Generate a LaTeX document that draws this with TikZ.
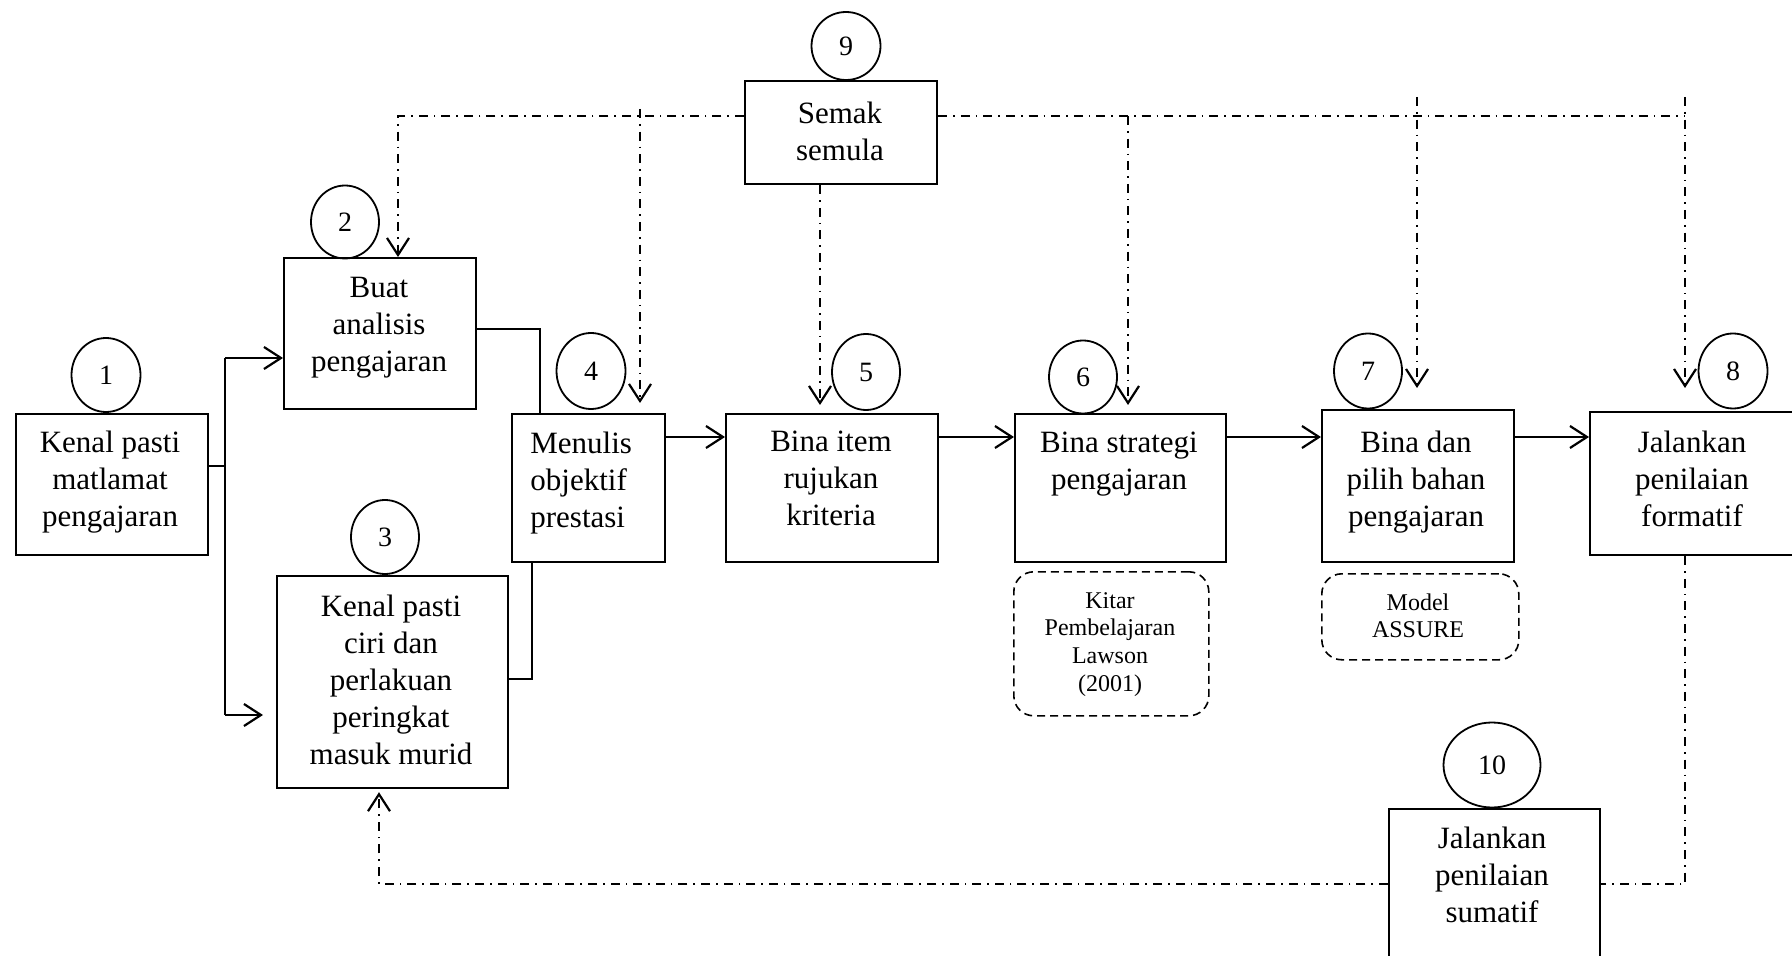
\documentclass[tikz,border=0pt]{standalone}
\usepackage{fontspec}
\setmainfont{Liberation Serif}
\usetikzlibrary{arrows.meta,shapes.geometric}

\begin{document}
\begin{tikzpicture}[x=0.5pt,y=-0.5pt,
  box/.style={draw,line width=1.1pt,rectangle,anchor=north west,inner sep=0pt},
  note/.style={draw,line width=0.8pt,rounded corners=10pt,dash pattern=on 4pt off 2.5pt,anchor=north west,inner sep=0pt},
  num/.style={draw,line width=0.9pt,ellipse,inner sep=0pt,font=\fontsize{14}{16}\selectfont},
  txt/.style={anchor=north,inner sep=0pt,align=center,font=\fontsize{15.5}{18.4}\selectfont},
  smalltxt/.style={anchor=north,inner sep=0pt,align=center,font=\fontsize{12}{13.8}\selectfont},
  flow/.style={line width=1.4pt},
  tip/.style={-{Straight Barb[length=8.5pt,width=11pt,line width=1.1pt]}},
  review/.style={line width=0.9pt,dash pattern=on 4.5pt off 3pt on 0.8pt off 3pt},
]
\useasboundingbox (0,0) rectangle (1792,956);
\clip (0,0) rectangle (1792,956);

% process boxes
\node[box,minimum width=96pt,minimum height=70.5pt] (b1) at (15,413) {};
\node[box,minimum width=96pt,minimum height=75.5pt] (b2) at (283,257) {};
\node[box,minimum width=115.5pt,minimum height=106pt] (b3) at (276,575) {};
\node[box,minimum width=76.5pt,minimum height=74pt] (b4) at (511,413) {};
\node[box,minimum width=106pt,minimum height=74pt] (b5) at (725,413) {};
\node[box,minimum width=105.5pt,minimum height=74pt] (b6) at (1014,413) {};
\node[box,minimum width=96pt,minimum height=76pt] (b7) at (1321,409) {};
\node[box,minimum width=110pt,minimum height=71.5pt] (b8) at (1589,411) {};
\node[box,minimum width=96pt,minimum height=51.5pt] (b9) at (744,80) {};
\node[box,minimum width=105.5pt,minimum height=85pt] (b10) at (1388,808) {};

% reference notes
\node[note,minimum width=97.5pt,minimum height=72pt] (n6) at (1013,571) {};
\node[note,minimum width=98.5pt,minimum height=43pt] (n7) at (1321,573) {};

% box texts
\node[txt] (t1) at (110,431) {Kenal pasti\\matlamat\\pengajaran};
\node[txt] (t2) at (379,277) {Buat\\analisis\\pengajaran};
\node[txt] (t3) at (391,595) {Kenal pasti\\ciri dan\\perlakuan\\peringkat\\masuk murid};
\node[txt,anchor=north west,align=left] (t4) at (530,431.5) {Menulis\\objektif\\prestasi};
\node[txt] (t5) at (831,430.5) {Bina item\\rujukan\\kriteria};
\node[txt] (t6) at (1119,432) {Bina strategi\\pengajaran};
\node[txt] (t7) at (1416,430.5) {Bina dan\\pilih bahan\\pengajaran};
\node[txt] (t8) at (1692,430.5) {Jalankan\\penilaian\\formatif};
\node[txt] (t9) at (840,101.5) {Semak\\semula};
\node[txt] (t10) at (1492,826.5) {Jalankan\\penilaian\\sumatif};
\node[smalltxt] (tn6) at (1110,592) {Kitar\\Pembelajaran\\Lawson\\(2001)};
\node[smalltxt] (tn7) at (1418,593) {Model\\ASSURE};

% step numbers
\node[num,minimum width=34.5pt,minimum height=37pt] (c1) at (106,375) {1};
\node[num,minimum width=34pt,minimum height=36.5pt] (c2) at (345,222) {2};
\node[num,minimum width=34pt,minimum height=37pt] (c3) at (385,537) {3};
\node[num,minimum width=34.5pt,minimum height=38pt] (c4) at (591,371) {4};
\node[num,minimum width=34pt,minimum height=38pt] (c5) at (866,372) {5};
\node[num,minimum width=34pt,minimum height=36.5pt] (c6) at (1083,377) {6};
\node[num,minimum width=34pt,minimum height=37.5pt] (c7) at (1368,371) {7};
\node[num,minimum width=34.5pt,minimum height=37.5pt] (c8) at (1733,371) {8};
\node[num,minimum width=34.5pt,minimum height=34pt] (c9) at (846,46) {9};
\node[num,minimum width=48.5pt,minimum height=42.5pt] (c10) at (1492,765) {10};

% main flow
\coordinate (ja) at (225,466);
\coordinate (jt) at (225,358);
\coordinate (jb) at (225,715);
\draw[flow] (b1.east |- ja) -- (ja);
\draw[flow] (jt) -- (jb);
\draw[flow,tip] (jt) -- (jt -| b2.west);
\draw[flow,tip,shorten >=6.5pt] (jb) -- (jb -| b3.west);
\coordinate (kb) at (540,329);
\draw[flow] (b2.east |- kb) -- (kb) -- (kb |- b4.north);
\coordinate (kc) at (532,679);
\draw[flow] (b3.east |- kc) -- (kc) -- (kc |- b4.south);
\coordinate (row) at (0,437);
\draw[flow,tip] (b4.east |- row) -- (b5.west |- row);
\draw[flow,tip] (b5.east |- row) -- (b6.west |- row);
\draw[flow,tip] (b6.east |- row) -- (b7.west |- row);
\draw[flow,tip] (b7.east |- row) -- (b8.west |- row);

% review (Semak semula) lines
\coordinate (tl) at (398,116);
\coordinate (tr) at (1685,116);
\draw[review,tip] (b9.west |- tl) -- (tl) -- (tl |- b2.north);
\draw[review] (b9.east |- tr) -- (tr);
\coordinate (v4) at (640,109);
\draw[review,tip,shorten >=5pt] (v4) -- (v4 |- b4.north);
\coordinate (v5) at (820,0);
\draw[review,tip,shorten >=4pt] (b9.south -| v5) -- (v5 |- b5.north);
\coordinate (v6) at (1128,116);
\draw[review,tip,shorten >=4pt] (v6) -- (v6 |- b6.north);
\coordinate (v7) at (1417,97);
\draw[review,tip,shorten >=10.5pt] (v7) -- (v7 |- b7.north);
\coordinate (v8) at (1685,97);
\draw[review,tip,shorten >=11.5pt] (v8) -- (v8 |- b8.north);

% summative feedback loop
\coordinate (br) at (1685,884);
\coordinate (bl) at (379,884);
\draw[review] (b8.south -| br) -- (br) -- (b10.east |- br);
\draw[review,tip,shorten >=1.5pt] (b10.west |- br) -- (bl) -- (bl |- b3.south);
\end{tikzpicture}
\end{document}
